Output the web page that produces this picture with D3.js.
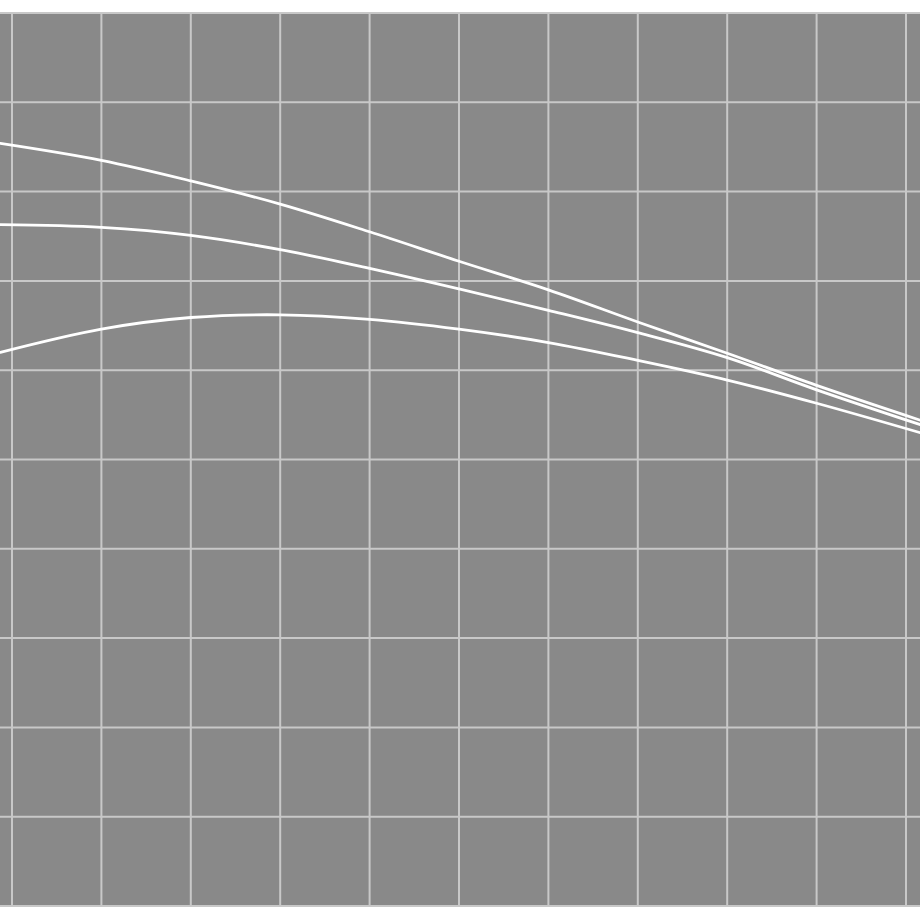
<!DOCTYPE html>
<html>
<head>
<meta charset="utf-8">
<script src="https://cdn.jsdelivr.net/npm/d3@7"></script>
<style>
  html, body { margin: 0; padding: 0; background: #ffffff; }
  svg { display: block; }
</style>
</head>
<body>
<svg id="chart" width="920" height="920"></svg>
<script>
// ---- data ----
const xValues = [-0.13, 1, 2, 3, 4, 5, 6, 7, 8, 9, 10.16];
const seriesA = [8.54, 8.35, 8.12, 7.86, 7.55, 7.22, 6.90, 6.54, 6.19, 5.83, 5.44];
const seriesB = [7.63, 7.60, 7.51, 7.35, 7.14, 6.91, 6.67, 6.42, 6.14, 5.78, 5.39];
const seriesC = [6.20, 6.46, 6.59, 6.62, 6.57, 6.46, 6.31, 6.11, 5.89, 5.63, 5.30];
const gridTicks = [0, 1, 2, 3, 4, 5, 6, 7, 8, 9, 10];

// ---- layout ----
const W = 920, H = 920;
const svg = d3.select("#chart");

const x = d3.scaleLinear().domain([0, 10]).range([12, 906]);
const y = d3.scaleLinear().domain([0, 10]).range([906, 13]);

// panel background (full width, between top and bottom gridlines)
svg.append("rect")
  .attr("x", 0).attr("y", y(10))
  .attr("width", W).attr("height", y(0) - y(10))
  .attr("fill", "#898989");

const grid = svg.append("g").attr("stroke", "#c8c8c8").attr("stroke-width", 2);
grid.selectAll("line.v").data(gridTicks).join("line")
  .attr("class", "v")
  .attr("x1", d => x(d)).attr("x2", d => x(d))
  .attr("y1", y(10)).attr("y2", y(0));
grid.selectAll("line.h").data(gridTicks).join("line")
  .attr("class", "h")
  .attr("x1", 0).attr("x2", W)
  .attr("y1", d => y(d)).attr("y2", d => y(d));

const line = d3.line()
  .x(d => x(d[0]))
  .y(d => y(d[1]))
  .curve(d3.curveCatmullRom.alpha(0.5));

const series = [seriesA, seriesB, seriesC];
svg.append("g").selectAll("path").data(series).join("path")
  .attr("d", s => line(s.map((v, i) => [xValues[i], v])))
  .attr("fill", "none")
  .attr("stroke", "#ffffff")
  .attr("stroke-width", 2.8)
  .attr("stroke-linecap", "round");
</script>
</body>
</html>
